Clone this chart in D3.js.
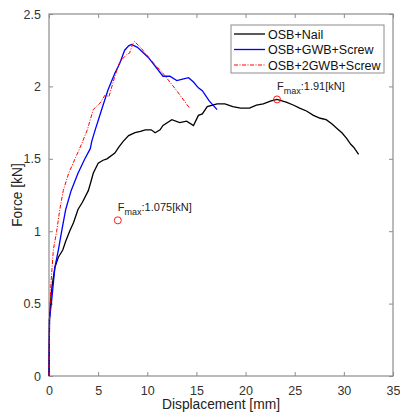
<!DOCTYPE html>
<meta charset="utf-8">
<script src="https://d3js.org/d3.v7.min.js"></script>
<style>
  body { margin: 0; background: #fff; }
  text { font-family: "Liberation Sans", Arial, sans-serif; }
</style>
<div id="my_dataviz"></div>
<script>

// data: [displacement mm, force kN]
var nail = [[0,0],[0.05,0.39],[0.2,0.55],[0.35,0.64],[0.6,0.75],[0.95,0.82],[1.4,0.87],[1.7,0.93],[2.1,1.0],[2.5,1.06],[2.95,1.15],[3.4,1.2],[4.0,1.28],[4.3,1.35],[4.5,1.4],[5.0,1.47],[5.5,1.49],[5.9,1.5],[6.7,1.54],[7.1,1.58],[7.55,1.62],[8.1,1.66],[8.75,1.68],[9.3,1.69],[9.8,1.7],[10.4,1.7],[10.8,1.68],[11.3,1.7],[11.6,1.73],[12.5,1.77],[13.3,1.75],[14,1.76],[14.7,1.73],[15.2,1.8],[15.6,1.81],[16.1,1.86],[17.1,1.88],[17.9,1.88],[18.7,1.86],[19.5,1.85],[20.4,1.85],[21.1,1.87],[21.8,1.88],[22.6,1.9],[23.2,1.91],[24.2,1.89],[24.9,1.87],[25.5,1.85],[26.2,1.83],[26.9,1.8],[27.6,1.78],[28.2,1.77],[28.8,1.74],[29.3,1.71],[29.8,1.68],[30.3,1.64],[30.7,1.6],[31,1.58],[31.5,1.53]];
var gwb = [[0,0],[0.05,0.39],[0.27,0.52],[0.44,0.64],[0.6,0.75],[0.95,0.87],[1.29,1.0],[1.7,1.15],[2.25,1.28],[2.95,1.4],[3.65,1.5],[4.2,1.57],[4.35,1.62],[4.7,1.7],[5.36,1.84],[6.0,1.975],[6.7,2.09],[7.2,2.16],[7.7,2.25],[8.1,2.28],[8.4,2.29],[9,2.27],[10.1,2.2],[11.6,2.07],[12.3,2.07],[13,2.04],[13.6,2.05],[14.2,2.06],[14.7,2.03],[15.2,1.99],[15.6,1.97],[16.3,1.9],[17.1,1.84]];
var gwb2 = [[0,0],[0.02,0.2],[0.05,0.39],[0.2,0.64],[0.44,0.87],[0.78,1.0],[1.1,1.15],[1.45,1.28],[2.0,1.4],[2.65,1.5],[3.3,1.6],[3.9,1.7],[4.2,1.77],[4.5,1.84],[5.2,1.885],[5.7,1.94],[6.1,1.93],[6.4,2.0],[6.7,2.07],[7.2,2.17],[7.9,2.22],[8.2,2.23],[8.5,2.29],[8.7,2.31],[9.3,2.27],[10.4,2.18],[11.6,2.09],[13,1.97],[14.3,1.85]];

var seriesNames = ["OSB+Nail", "OSB+GWB+Screw", "OSB+2GWB+Screw"];
var seriesColors = ["#000000", "#0000ff", "#ff0000"];
var xTicks = [0, 5, 10, 15, 20, 25, 30, 35];
var yTicks = [0, 0.5, 1, 1.5, 2, 2.5];
var peaks = [[23.2, 1.91, "1.91[kN]"], [7, 1.075, "1.075[kN]"]];

var margin = {top: 14, right: 7, bottom: 39, left: 49},
    width = 400 - margin.left - margin.right,
    height = 415 - margin.top - margin.bottom;

var svg = d3.select("#my_dataviz")
  .append("svg")
    .attr("width", 400)
    .attr("height", 415)
  .append("g")
    .attr("transform", "translate(" + margin.left + "," + margin.top + ")");

var x = d3.scaleLinear().domain([0, 35]).range([0, width]);
var y = d3.scaleLinear().domain([0, 2.5]).range([height, 0]);

// box
svg.append("rect")
  .attr("width", width).attr("height", height)
  .attr("fill", "none").attr("stroke", "#8c8c8c").attr("stroke-width", 1.2);

// axes, ticks inside like matlab
function styleAxis(g) {
  g.select(".domain").remove();
  g.selectAll("line").attr("stroke", "#8c8c8c");
  g.selectAll("text").attr("fill", "#333").attr("font-size", "12.5px")
    .attr("font-family", "Liberation Sans, Arial, sans-serif");
}
svg.append("g").attr("transform", "translate(0," + height + ")")
  .call(d3.axisBottom(x).tickValues(xTicks).tickSizeInner(-4).tickSizeOuter(0).tickPadding(10))
  .call(styleAxis);
svg.append("g")
  .call(d3.axisLeft(y).tickValues(yTicks).tickFormat(d3.format("")).tickSizeInner(-4).tickSizeOuter(0).tickPadding(8))
  .call(styleAxis);
svg.append("g")
  .call(d3.axisTop(x).tickValues(xTicks).tickSizeInner(-4).tickSizeOuter(0).tickFormat(""))
  .call(styleAxis);
svg.append("g").attr("transform", "translate(" + width + ",0)")
  .call(d3.axisRight(y).tickValues(yTicks).tickSizeInner(-4).tickSizeOuter(0).tickFormat(""))
  .call(styleAxis);

// curves
var line = d3.line()
  .x(function(d) { return x(d[0]); })
  .y(function(d) { return y(d[1]); });

[nail, gwb, gwb2].forEach(function(s, i) {
  svg.append("path")
    .datum(s)
    .attr("fill", "none")
    .attr("stroke", seriesColors[i])
    .attr("stroke-width", i == 2 ? 1 : 1.3)
    .attr("stroke-dasharray", i == 2 ? "4,1.5,1,1.5" : null)
    .attr("d", line);
});

// peak markers
peaks.forEach(function(p) {
  svg.append("circle")
    .attr("cx", x(p[0])).attr("cy", y(p[1])).attr("r", 3.5)
    .attr("fill", "none").attr("stroke", "#ff0000").attr("stroke-width", 0.9);
  var t = svg.append("text")
    .attr("x", x(p[0])).attr("y", y(p[1]) - 9)
    .attr("font-size", "11px").attr("fill", "#222");
  t.append("tspan").text("F");
  t.append("tspan").attr("dy", 4).attr("font-size", "9px").text("max");
  t.append("tspan").attr("dy", -4).text(":" + p[2]);
});

// legend
var lg = svg.append("g").attr("transform", "translate(" + (231 - margin.left) + "," + (25 - margin.top) + ")");
lg.append("rect").attr("width", 153).attr("height", 48)
  .attr("fill", "#fff").attr("stroke", "#8c8c8c").attr("stroke-width", 1);
seriesNames.forEach(function(n, i) {
  var yy = 9 + i * 15.5;
  lg.append("line").attr("x1", 3).attr("x2", 34).attr("y1", yy).attr("y2", yy)
    .attr("stroke", seriesColors[i]).attr("stroke-width", i == 2 ? 1 : 1.3)
    .attr("stroke-dasharray", i == 2 ? "4,1.5,1,1.5" : null);
  lg.append("text").attr("x", 37).attr("y", yy + 4.5)
    .attr("font-size", "12.5px").attr("fill", "#111").text(n);
});

// axis labels
svg.append("text")
  .attr("x", width / 2).attr("y", height + 33)
  .attr("text-anchor", "middle").attr("font-size", "13.8px").attr("fill", "#222")
  .text("Displacement [mm]");
svg.append("text")
  .attr("transform", "rotate(-90)")
  .attr("x", -height / 2).attr("y", -27)
  .attr("text-anchor", "middle").attr("font-size", "13.8px").attr("fill", "#222")
  .text("Force [kN]");

</script>
